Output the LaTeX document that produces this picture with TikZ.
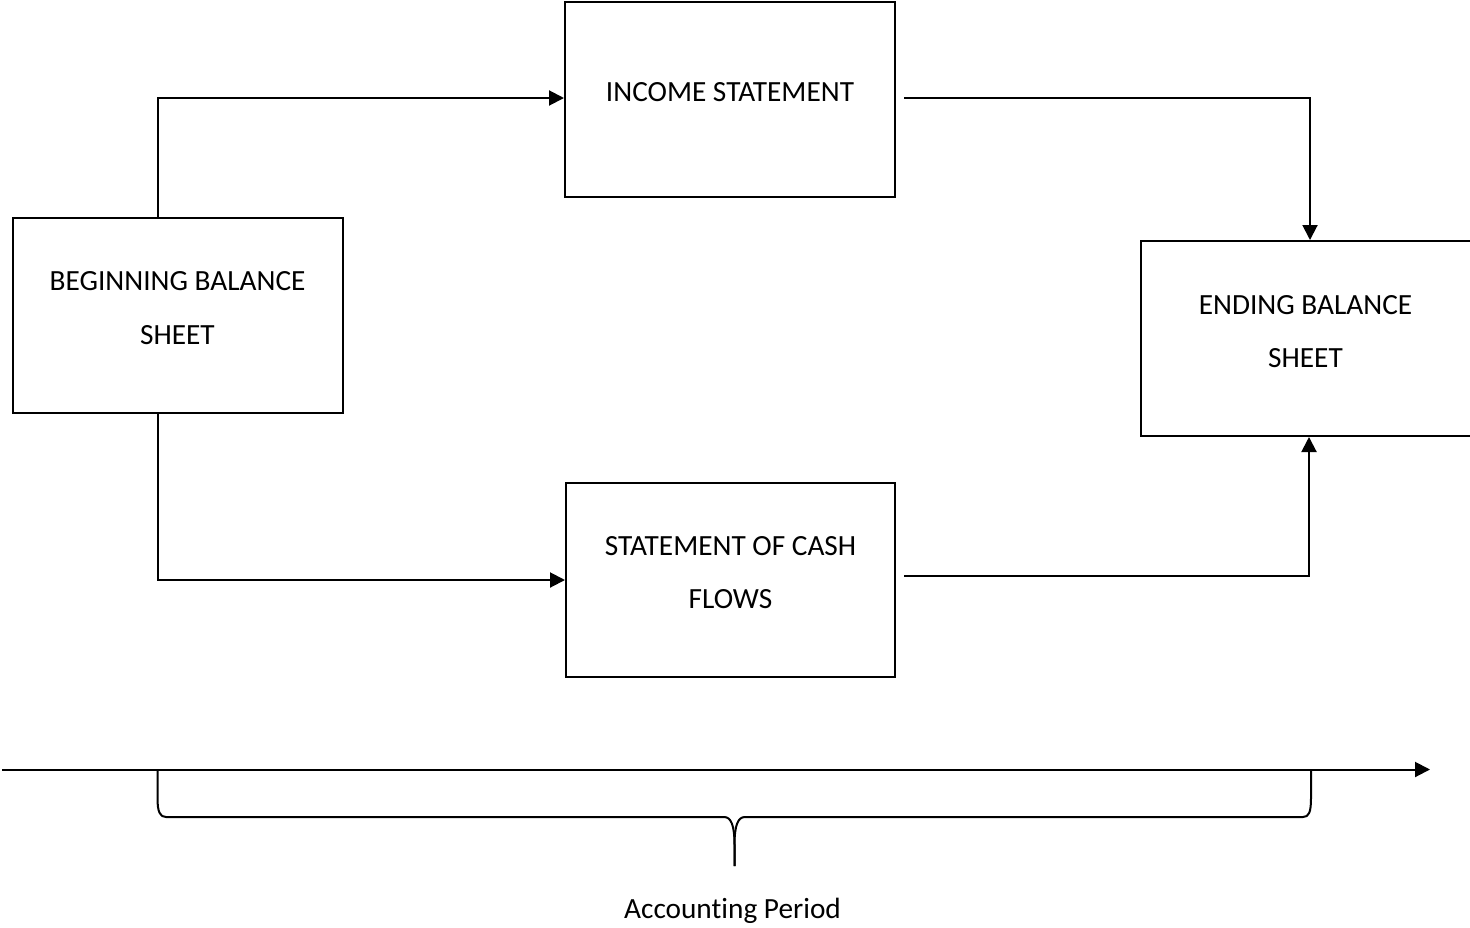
\documentclass[tikz,border=0pt]{standalone}
\usepackage{fontspec}
\setmainfont{Carlito}[Ligatures=NoCommon]
\usetikzlibrary{arrows.meta,calc}
\begin{document}
\begin{tikzpicture}[x=1pt,y=-1pt,
  statement/.style={draw,line width=2pt,rectangle,inner sep=0pt},
  caption/.style={anchor=base,inner sep=0pt,font=\fontsize{29.3}{35}\selectfont},
  flow/.style={line width=2pt,-{Triangle[length=15pt,width=15pt]}},
  plain/.style={line width=2pt}]
\useasboundingbox (0,0) rectangle (1470,927);

% statement boxes
\node[statement,minimum width=330pt,minimum height=195pt] (bbs) at (177.5,315.75) {};
\node[statement,minimum width=330pt,minimum height=195pt] (inc) at (730,99.5) {};
\node[statement,minimum width=329pt,minimum height=194pt] (cfs) at (730.5,580) {};
\node[statement,minimum width=330pt,minimum height=195pt] (ebs) at (1305.5,338.5) {};

% box captions
\node[caption] (bbs1) at (177.5,290) {BEGINNING BALANCE};
\node[caption] (bbs2) at (177.5,344) {SHEET};
\node[caption] (inc1) at (730,101.5) {INCOME STATEMENT};
\node[caption] (cfs1) at (730.5,555) {STATEMENT OF CASH};
\node[caption] (cfs2) at (730.5,608) {FLOWS};
\node[caption] (ebs1) at (1305.5,314) {ENDING BALANCE};
\node[caption] (ebs2) at (1305.5,367) {SHEET};

% flows between the statements
\coordinate (incout) at ($(inc.east)+(8,-1.5)$);
\coordinate (cfsout) at ($(cfs.east)+(8,-4)$);
\draw[flow] (bbs.north -| 158,0) |- (inc.west |- 0,98);
\draw[flow] (bbs.south -| 158,0) |- (cfs.west |- 0,580);
\draw[flow] (incout) -| (ebs.north -| 1310,0);
\draw[flow] (cfsout) -| (ebs.south -| 1309,0);

% time axis
\coordinate (axstart) at (2,769.5);
\coordinate (axend) at (1430,769.5);
\draw[flow] (axstart) -- (axend);

% accounting period brace
\coordinate (brl) at (157.5,769.5);
\coordinate (brr) at (1311,769.5);
\coordinate (brtip) at (734.5,866);
\draw[plain,line join=round] (brl) -- (157.5,798)
  .. controls (157.5,812) and (160,817) .. (166,817) -- (724,817)
  .. controls (731,817) and (734.5,825) .. (734.5,845) -- (brtip);
\draw[plain,line join=round] (brtip) -- (734.5,845)
  .. controls (734.5,825) and (738,817) .. (745,817) -- (1303,817)
  .. controls (1309,817) and (1311,812) .. (1311,798) -- (brr);
\node[caption] (period) at (732.5,918) {Accounting Period};
\end{tikzpicture}
\end{document}
